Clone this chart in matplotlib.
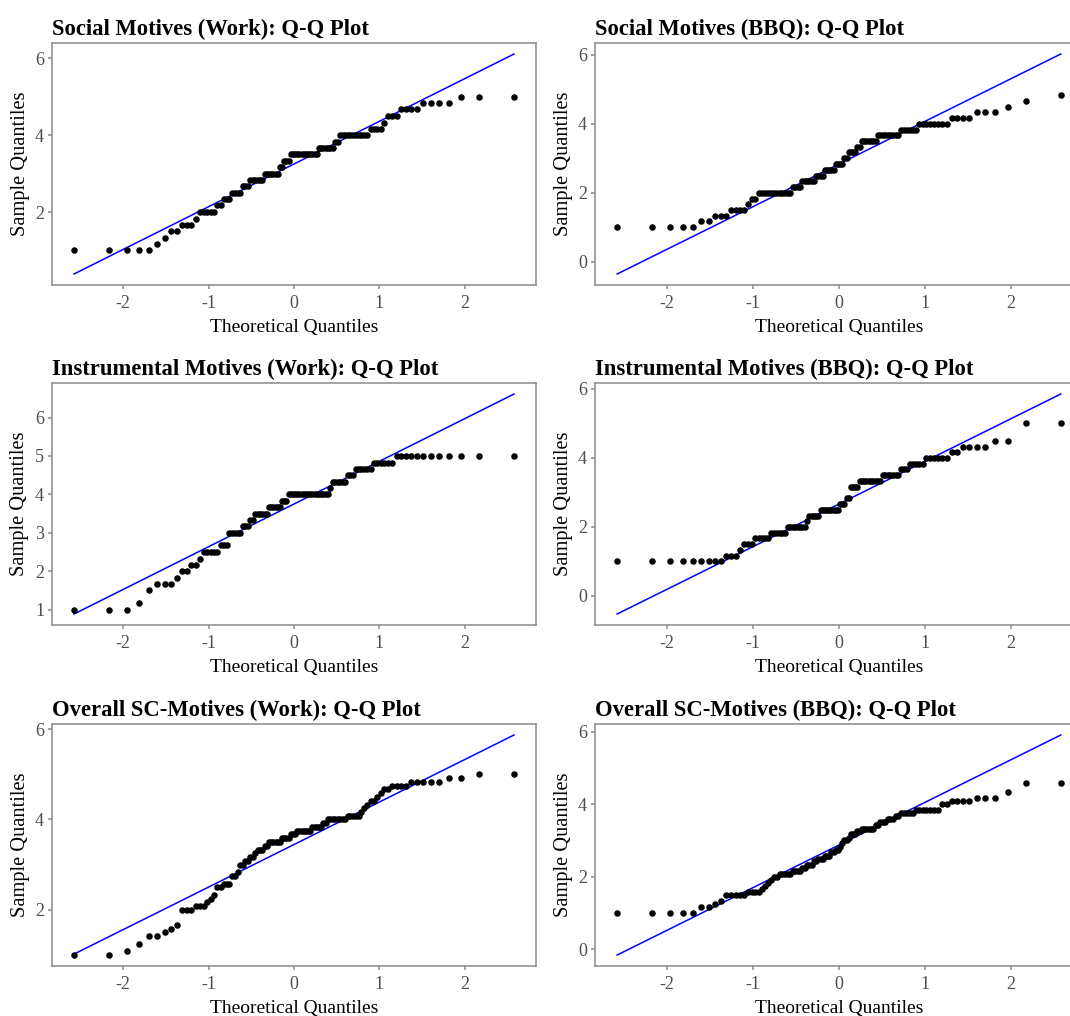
import numpy as np
import matplotlib
matplotlib.use('Agg')
import matplotlib.pyplot as plt
from statistics import NormalDist

plt.rcParams['font.family'] = ['Liberation Serif', 'DejaVu Serif']
plt.rcParams['axes.unicode_minus'] = False

# sorted sample values, stored as (level, how many respondents) per panel
soc_work_levels = [1.0, 1.17, 1.33, 1.5, 1.67, 1.83, 2.0, 2.17, 2.33, 2.5, 2.67, 2.83, 3.0,
                   3.17, 3.33, 3.5, 3.67, 3.83, 4.0, 4.17, 4.33, 4.5, 4.67, 4.83, 5.0]
soc_work_counts = [5, 1, 1, 2, 3, 1, 5, 2, 3, 4, 3, 6, 7, 2, 3, 13, 7, 2, 11, 4, 1, 3, 4, 4, 3]

soc_bbq_levels = [1.0, 1.17, 1.33, 1.5, 1.67, 1.83, 2.0, 2.17, 2.33, 2.5, 2.67, 2.83, 3.0,
                  3.17, 3.33, 3.5, 3.67, 3.83, 4.0, 4.17, 4.33, 4.5, 4.67, 4.83]
soc_bbq_counts = [5, 2, 3, 4, 1, 2, 12, 4, 6, 4, 5, 4, 2, 4, 2, 7, 9, 6, 8, 4, 3, 1, 1, 1]

ins_work_levels = [1.0, 1.17, 1.5, 1.67, 1.83, 2.0, 2.17, 2.33, 2.5, 2.67, 3.0, 3.17, 3.33,
                   3.5, 3.67, 3.83, 4.0, 4.17, 4.33, 4.5, 4.67, 4.83, 5.0]
ins_work_counts = [3, 1, 1, 3, 1, 2, 2, 1, 5, 3, 5, 3, 2, 6, 6, 3, 19, 1, 6, 3, 6, 6, 12]

ins_bbq_levels = [1.0, 1.17, 1.33, 1.5, 1.67, 1.83, 2.0, 2.17, 2.33, 2.5, 2.67, 2.83, 3.17,
                  3.33, 3.5, 3.67, 3.83, 4.0, 4.17, 4.33, 4.5, 5.0]
ins_bbq_counts = [9, 3, 1, 3, 5, 6, 8, 1, 5, 9, 3, 2, 4, 10, 7, 3, 5, 6, 2, 4, 2, 2]

all_work_levels = [1.0, 1.08, 1.25, 1.42, 1.5, 1.58, 1.67, 2.0, 2.08, 2.17, 2.25, 2.33, 2.5,
                   2.58, 2.75, 2.83, 3.0, 3.08, 3.17, 3.25, 3.33, 3.42, 3.5, 3.58, 3.67, 3.75,
                   3.83, 3.92, 4.0, 4.08, 4.17, 4.25, 4.33, 4.42, 4.5, 4.58, 4.67, 4.75, 4.83,
                   4.92, 5.0]
all_work_counts = [2, 1, 1, 2, 1, 1, 1, 3, 3, 1, 1, 1, 2, 3, 2, 1, 2, 2, 2, 1, 3, 2, 6, 4, 3,
                   7, 5, 2, 8, 5, 1, 1, 1, 2, 1, 1, 2, 4, 5, 2, 2]

all_bbq_levels = [1.0, 1.17, 1.25, 1.33, 1.5, 1.58, 1.67, 1.75, 1.83, 1.92, 2.0, 2.08, 2.17,
                  2.25, 2.33, 2.42, 2.5, 2.58, 2.67, 2.75, 2.83, 2.92, 3.0, 3.08, 3.17, 3.25,
                  3.33, 3.42, 3.5, 3.58, 3.67, 3.75, 3.83, 4.0, 4.08, 4.17, 4.33, 4.58]
all_bbq_counts = [5, 2, 1, 1, 5, 4, 1, 1, 1, 1, 2, 5, 4, 2, 3, 2, 3, 3, 2, 2, 1, 1, 2, 1, 3,
                  2, 6, 2, 3, 3, 2, 5, 7, 2, 4, 3, 1, 2]

titles = ['Social Motives (Work): Q-Q Plot', 'Social Motives (BBQ): Q-Q Plot',
          'Instrumental Motives (Work): Q-Q Plot', 'Instrumental Motives (BBQ): Q-Q Plot',
          'Overall SC-Motives (Work): Q-Q Plot', 'Overall SC-Motives (BBQ): Q-Q Plot']
panels = [(soc_work_levels, soc_work_counts), (soc_bbq_levels, soc_bbq_counts),
          (ins_work_levels, ins_work_counts), (ins_bbq_levels, ins_bbq_counts),
          (all_work_levels, all_work_counts), (all_bbq_levels, all_bbq_counts)]
yticks_list = [[2, 4, 6], [0, 2, 4, 6], [1, 2, 3, 4, 5, 6], [0, 2, 4, 6], [2, 4, 6], [0, 2, 4, 6]]
xticks = [-2, -1, 0, 1, 2]

W, H = 1070, 1016
lefts = [52, 595]
widths = [484, 488]
tops = [43, 383, 724]
h = 242

grey_line = '#8a8a8a'
grey_text = '#4d4d4d'
norm = NormalDist()

fig = plt.figure(figsize=(W / 100, H / 100), dpi=100)

for k, ((levels, counts), title) in enumerate(zip(panels, titles)):
    row, col = k // 2, k % 2
    ax = fig.add_axes([lefts[col] / W, 1 - (tops[row] + h) / H, widths[col] / W, h / H])

    # qq points: sample vs normal quantiles at ppoints
    sample = np.repeat(levels, counts)
    n = len(sample)
    probs = (np.arange(1, n + 1) - 0.5) / n
    theo = np.array([norm.inv_cdf(p) for p in probs])

    # reference line through first and third quartiles
    q1, q3 = np.quantile(sample, [0.25, 0.75])
    z1, z3 = norm.inv_cdf(0.25), norm.inv_cdf(0.75)
    slope = (q3 - q1) / (z3 - z1)
    icpt = q1 - slope * z1
    lx = np.array([theo.min(), theo.max()])
    ly = icpt + slope * lx

    ax.plot(lx, ly, color='#0000ff', lw=1.1, zorder=2)
    ax.scatter(theo, sample, s=22, color='black', linewidths=0, zorder=3)

    xr = theo.max() - theo.min()
    ax.set_xlim(theo.min() - 0.05 * xr, theo.max() + 0.05 * xr)
    lo = min(sample.min(), ly.min())
    hi = max(sample.max(), ly.max())
    ax.set_ylim(lo - 0.05 * (hi - lo), hi + 0.05 * (hi - lo))

    ax.set_xticks(xticks)
    ax.set_yticks(yticks_list[k])
    ax.tick_params(colors=grey_line, labelcolor=grey_text, labelsize=13,
                   length=3.2, width=1.1, pad=2.5)
    ax.tick_params(axis='x', pad=4)
    for sp in ax.spines.values():
        sp.set_color(grey_line)
        sp.set_linewidth(1.1)

    ax.set_title(title, loc='left', fontweight='bold', fontsize=16.3, pad=6)
    ax.set_xlabel('Theoretical Quantiles', fontsize=14, labelpad=5)
    ax.set_ylabel('Sample Quantiles', fontsize=14.7, labelpad=4)

fig.savefig('out.png', dpi=100)
